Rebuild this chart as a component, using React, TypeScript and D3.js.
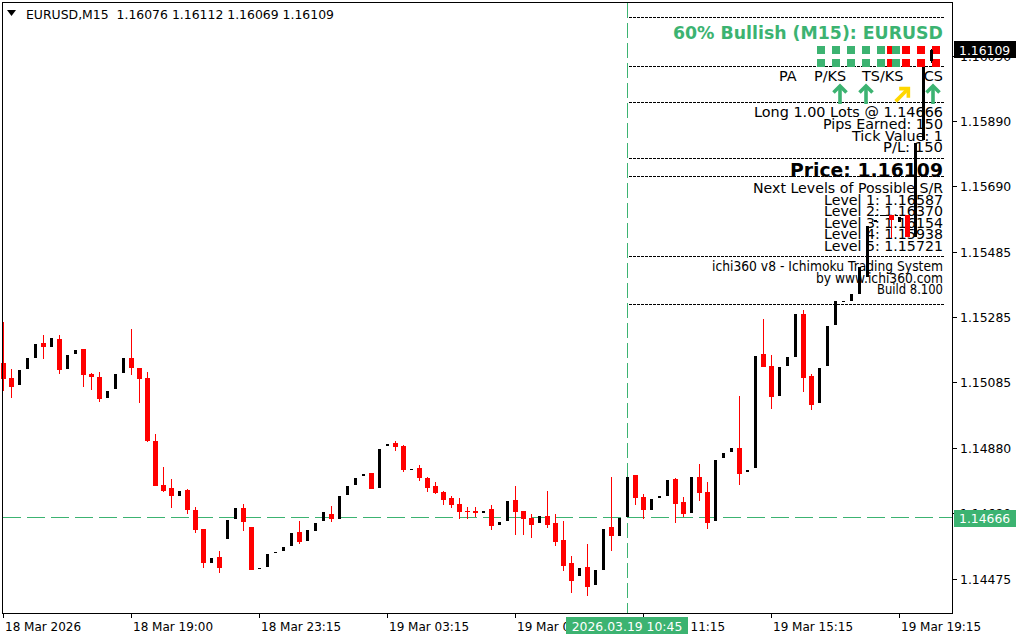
import React from "react";
import * as d3 from "d3";

// ---- data (EURUSD M15) ----
const opens = [1.15143,1.15096,1.15075,1.15124,1.15159,1.15204,1.15193,1.15216,1.15125,1.15171,1.15186,1.15108,1.15099,1.15035,1.15063,1.15112,1.15158,1.15127,1.15096,1.14901,1.14765,1.14756,1.14732,1.14750,1.14688,1.14629,1.14525,1.14543,1.14599,1.14661,1.14694,1.14636,1.14510,1.14513,1.14555,1.14562,1.14578,1.14620,1.14593,1.14624,1.14655,1.14676,1.14660,1.14735,1.14766,1.14794,1.14802,1.14757,1.14887,1.14895,1.14886,1.14815,1.14818,1.14787,1.14762,1.14744,1.14725,1.14707,1.14685,1.14685,1.14680,1.14691,1.14643,1.14655,1.14719,1.14685,1.14663,1.14649,1.14669,1.14648,1.14595,1.14524,1.14485,1.14512,1.14457,1.14504,1.14636,1.14609,1.14666,1.14796,1.14728,1.14689,1.14726,1.14732,1.14784,1.14713,1.14680,1.14790,1.14745,1.14655,1.14849,1.14867,1.14880,1.14805,1.14819,1.15170,1.15133,1.15041,1.15134,1.15161,1.15295,1.15102,1.15020,1.15134,1.15261,1.15331,1.15335,1.15356,1.15408,1.15578,1.15600,1.15600,1.15579,1.15600,1.15533,1.15831,1.16076];
const highs = [1.15269,1.15123,1.15121,1.15158,1.15201,1.15229,1.15220,1.15229,1.15167,1.15182,1.15186,1.15112,1.15114,1.15056,1.15108,1.15158,1.15247,1.15127,1.15114,1.14923,1.14821,1.14784,1.14747,1.14753,1.14697,1.14630,1.14541,1.14561,1.14657,1.14694,1.14707,1.14636,1.14510,1.14552,1.14558,1.14574,1.14617,1.14654,1.14626,1.14648,1.14682,1.14700,1.14731,1.14762,1.14787,1.14799,1.14802,1.14877,1.14892,1.14901,1.14889,1.14815,1.14827,1.14790,1.14775,1.14746,1.14731,1.14725,1.14697,1.14697,1.14685,1.14703,1.14651,1.14716,1.14762,1.14685,1.14676,1.14669,1.14747,1.14676,1.14654,1.14546,1.14509,1.14583,1.14503,1.14629,1.14790,1.14663,1.14790,1.14796,1.14737,1.14722,1.14731,1.14781,1.14787,1.14728,1.14790,1.14831,1.14775,1.14843,1.14864,1.14880,1.15041,1.14812,1.15164,1.15278,1.15167,1.15130,1.15161,1.15295,1.15306,1.15108,1.15128,1.15257,1.15335,1.15334,1.15356,1.15440,1.15566,1.15584,1.15600,1.15600,1.15594,1.15600,1.15822,1.16058,1.16112];
const lows = [1.15056,1.15035,1.15075,1.15124,1.15159,1.15156,1.15193,1.15109,1.15125,1.15171,1.15069,1.15060,1.15023,1.15035,1.15063,1.15112,1.15106,1.15020,1.14899,1.14763,1.14745,1.14695,1.14732,1.14677,1.14618,1.14510,1.14525,1.14494,1.14599,1.14661,1.14624,1.14502,1.14510,1.14513,1.14555,1.14562,1.14578,1.14584,1.14593,1.14624,1.14655,1.14652,1.14660,1.14735,1.14766,1.14794,1.14754,1.14757,1.14887,1.14871,1.14806,1.14815,1.14778,1.14745,1.14737,1.14703,1.14694,1.14661,1.14661,1.14666,1.14680,1.14626,1.14643,1.14655,1.14611,1.14611,1.14601,1.14649,1.14633,1.14578,1.14500,1.14432,1.14485,1.14423,1.14457,1.14504,1.14562,1.14609,1.14666,1.14703,1.14659,1.14689,1.14726,1.14732,1.14649,1.14666,1.14680,1.14717,1.14628,1.14655,1.14849,1.14867,1.14766,1.14805,1.14819,1.15131,1.15001,1.15041,1.15134,1.15161,1.15054,1.14998,1.15020,1.15134,1.15261,1.15331,1.15335,1.15356,1.15408,1.15578,1.15600,1.15528,1.15579,1.15533,1.15533,1.15831,1.16069];
const closes = [1.15094,1.15069,1.15121,1.15158,1.15201,1.15193,1.15220,1.15122,1.15167,1.15182,1.15106,1.15100,1.15032,1.15056,1.15108,1.15158,1.15128,1.15094,1.14902,1.14763,1.14748,1.14732,1.14747,1.14689,1.14627,1.14525,1.14541,1.14510,1.14657,1.14694,1.14652,1.14503,1.14510,1.14552,1.14558,1.14574,1.14617,1.14589,1.14626,1.14648,1.14682,1.14660,1.14731,1.14762,1.14787,1.14799,1.14754,1.14877,1.14892,1.14884,1.14812,1.14815,1.14788,1.14757,1.14741,1.14720,1.14704,1.14683,1.14683,1.14680,1.14685,1.14640,1.14651,1.14716,1.14683,1.14661,1.14643,1.14669,1.14643,1.14590,1.14516,1.14470,1.14509,1.14451,1.14503,1.14629,1.14609,1.14663,1.14790,1.14726,1.14689,1.14722,1.14731,1.14781,1.14708,1.14677,1.14790,1.14741,1.14649,1.14843,1.14864,1.14880,1.14800,1.14812,1.15164,1.15131,1.15038,1.15130,1.15161,1.15295,1.15097,1.15013,1.15128,1.15257,1.15335,1.15334,1.15356,1.15440,1.15566,1.15584,1.15600,1.15584,1.15594,1.15533,1.15822,1.16058,1.16109];

const priceTicks = [1.16090, 1.15890, 1.15690, 1.15485, 1.15285, 1.15085, 1.14880, 1.14680, 1.14475];
const timeTickIdx = [0, 16, 32, 48, 64, 80, 96, 112];
const timeTickLabels = ["18 Mar 2026", "18 Mar 19:00", "18 Mar 23:15", "19 Mar 03:15", "19 Mar 07:15", "19 Mar 11:15", "19 Mar 15:15", "19 Mar 19:15"];
const entryPrice = 1.14666;
const entryIdx = 78;
const entryLabel = "2026.03.19 10:45";
const lastPrice = 1.16109;
const headerText = "EURUSD,M15  1.16076 1.16112 1.16069 1.16109";
const levelTexts = ["Level 1: 1.16587", "Level 2: 1.16370", "Level 3: 1.16154", "Level 4: 1.15938", "Level 5: 1.15721"];
const infoTexts = ["Long 1.00 Lots @ 1.14666", "Pips Earned: 150", "Tick Value: 1", "P/L: 150"];
const creditTexts = ["ichi360 v8 - Ichimoku Trading System", "by www.ichi360.com", "Build 8.100"];
const signalLabels = ["PA", "P/KS", "TS/KS", "CS"];
const greenSquares = 6;
const redSquares = 4;

const GREEN = "#3cb371";
const RED = "#ff0000";
const FONT = "'DejaVu Sans', Verdana, sans-serif";

const L = 3, R = 952, T = 3, B = 613;

// measured text widths in the panel (layout)
const infoW = [189, 120, 91, 60];
const levelW = 119;
const creditW = [231, 127, 66];

export default function App() {
  const n = opens.length;
  const x = d3.scaleLinear().domain([0, n - 1]).range([3, 3 + 8 * (n - 1)]);
  const y = d3.scaleLinear().domain([1.143699, 1.162546]).range([B, T]);
  const fmt = d3.format(".5f");

  const candles = opens.map((o, i) => {
    const c = closes[i], h = highs[i], l = lows[i];
    const cx = Math.round(x(i));
    const bull = c >= o;
    const top = Math.round(y(Math.max(o, c)));
    const bot = Math.round(y(Math.min(o, c)));
    const yh = Math.round(y(h)), yl = Math.round(y(l));
    if (bull) {
      return (
        <g key={i}>
          <rect x={cx} y={yh} width={1} height={Math.max(1, yl - yh)} fill="#000" />
          <rect x={cx - 1} y={top} width={3} height={Math.max(1, bot - top)} fill="#000" />
        </g>
      );
    }
    return (
      <g key={i}>
        <rect x={cx} y={yh} width={1} height={Math.max(1, yl - yh)} fill={RED} />
        <rect x={cx - 2} y={top} width={5} height={Math.max(1, bot - top)} fill={RED} />
      </g>
    );
  });

  const panelLines = [17.5, 66, 102, 158, 176, 256.5, 304];
  const yEntry = Math.round(y(entryPrice)) + 0.5;
  const xEntry = Math.round(x(entryIdx)) + 0.5;

  const arrowUp = (cx: number, color: string, key: string, rot = 0) => (
    <g key={key} transform={`rotate(${rot},${cx},${95})`} stroke={color} strokeWidth={3.6} fill="none" strokeLinecap="butt">
      <polyline points={`${cx - 6.5},${92.5} ${cx},${86} ${cx + 6.5},${92.5}`} />
      <line x1={cx} y1={87} x2={cx} y2={104} />
    </g>
  );

  const fitText = (t: string, xr: number, yb: number, w: number, size: number, bold = false, fill = "#000") => (
    <text key={t} x={xr - w} y={yb} fontSize={size} fontWeight={bold ? "bold" : "normal"} fill={fill}
      textLength={w} lengthAdjust="spacingAndGlyphs">{t}</text>
  );

  return (
    <svg width={1024} height={640} style={{ position: "absolute", left: 0, top: 0, background: "#fff" }} fontFamily={FONT}>
      <rect x={0} y={0} width={1024} height={640} fill="#fff" />
      {/* panel separators */}
      {panelLines.map((py, k) => (
        <line key={k} x1={629} x2={944} y1={py} y2={py} stroke="#000" strokeWidth={1} strokeDasharray="3,1" shapeRendering="crispEdges" />
      ))}
      {/* entry lines */}
      <line x1={L} x2={R} y1={yEntry} y2={yEntry} stroke={GREEN} strokeWidth={1} strokeDasharray="18,6" />
      <line x1={xEntry} x2={xEntry} y1={T} y2={B} stroke={GREEN} strokeWidth={1} strokeDasharray="15,5" />

      {/* panel text */}
      {fitText("60% Bullish (M15): EURUSD", 943, 38.5, 270, 17.3, true, GREEN)}
      {[0, 1].map((row) => (
        <g key={row}>
          {d3.range(redSquares).map((k) => (
            <rect key={"r" + k} x={887 + 15 * k} y={46 + row * 13} width={8} height={8} fill={RED} />
          ))}
          {d3.range(greenSquares).map((k) => (
            <rect key={"g" + k} x={817 + 15 * k} y={46 + row * 13} width={8} height={8} fill={GREEN} />
          ))}
        </g>
      ))}
      {signalLabels.map((s, k) => (
        <text key={s} x={[779, 814, 862, 943][k]} y={81} textAnchor={k === 3 ? "end" : "start"} fontSize={14.4} fill="#000">{s}</text>
      ))}
      {arrowUp(840, GREEN, "a1")}
      {arrowUp(866, GREEN, "a2")}
      {arrowUp(902, "#ffd700", "a3", 45)}
      {arrowUp(933, GREEN, "a4")}
      {infoTexts.map((t, k) => fitText(t, 943, 117.3 + 11.6 * k, infoW[k], 14.4))}
      {fitText("Price: 1.16109", 943, 176.5, 153, 19, true)}
      {fitText("Next Levels of Possible S/R", 943, 193, 190, 14.4)}
      {levelTexts.map((t, k) => fitText(t, 943, 204.6 + 11.6 * k, levelW, 14.4))}
      {creditTexts.map((t, k) => fitText(t, 943, 271 + 11.6 * k, creditW[k], 14.4))}
      <line x1={Math.round(x(109))} x2={Math.round(x(113))} y1={Math.round(y(1.15600)) + 0.5} y2={Math.round(y(1.15600)) + 0.5} stroke="#000" strokeDasharray="3,2" />

      {/* candles */}
      <g shapeRendering="crispEdges">{candles}</g>

      {/* frame */}
      <g shapeRendering="crispEdges" stroke="#000" fill="none">
        <line x1={L - 0.5} x2={L - 0.5} y1={T} y2={B + 1} />
        <line x1={R + 0.5} x2={R + 0.5} y1={T - 1} y2={B + 1} />
        <line x1={L - 1} x2={R + 1} y1={B + 0.5} y2={B + 0.5} />
        <line x1={L - 1} x2={R + 1} y1={T - 0.5} y2={T - 0.5} />
      </g>

      {/* price axis */}
      {priceTicks.map((p) => {
        const py = Math.round(y(p)) + 0.5;
        return (
          <g key={p}>
            <line x1={R + 1} x2={R + 5} y1={py} y2={py} stroke="#000" />
            <text x={960} y={py + 4.5} fontSize={12.4} fill="#000">{fmt(p)}</text>
          </g>
        );
      })}
      <rect x={954} y={Math.round(y(lastPrice)) - 9} width={62} height={17} fill="#000" />
      <text x={959} y={Math.round(y(lastPrice)) + 4.5} fontSize={12.4} fill="#fff">{fmt(lastPrice)}</text>
      <rect x={954} y={Math.round(y(entryPrice)) - 7} width={62} height={17} fill={GREEN} />
      <text x={959} y={Math.round(y(entryPrice)) + 6} fontSize={12.4} fill="#fff">{fmt(entryPrice)}</text>

      {/* time axis */}
      {timeTickIdx.map((ti, k) => {
        const tx = Math.round(x(ti)) + 0.5;
        return (
          <g key={ti}>
            <line x1={tx} x2={tx} y1={B + 1} y2={B + 5} stroke="#000" />
            <text x={tx + 1.5} y={631} fontSize={12} fill="#000">{timeTickLabels[k]}</text>
          </g>
        );
      })}
      <line x1={xEntry} x2={xEntry} y1={B - 10} y2={B} stroke={GREEN} />
      <rect x={Math.round(x(entryIdx)) - 61} y={617} width={122} height={17} fill={GREEN} />
      <text x={Math.round(x(entryIdx))} y={630.5} textAnchor="middle" fontSize={12.4} fill="#fff">{entryLabel}</text>

      {/* header */}
      <polygon points="7,10 16,10 11.5,16" fill="#000" />
      <text x={26} y={19} fontSize={12.2} fill="#000" style={{ whiteSpace: "pre" }} textLength={308} lengthAdjust="spacingAndGlyphs">{headerText}</text>
    </svg>
  );
}
